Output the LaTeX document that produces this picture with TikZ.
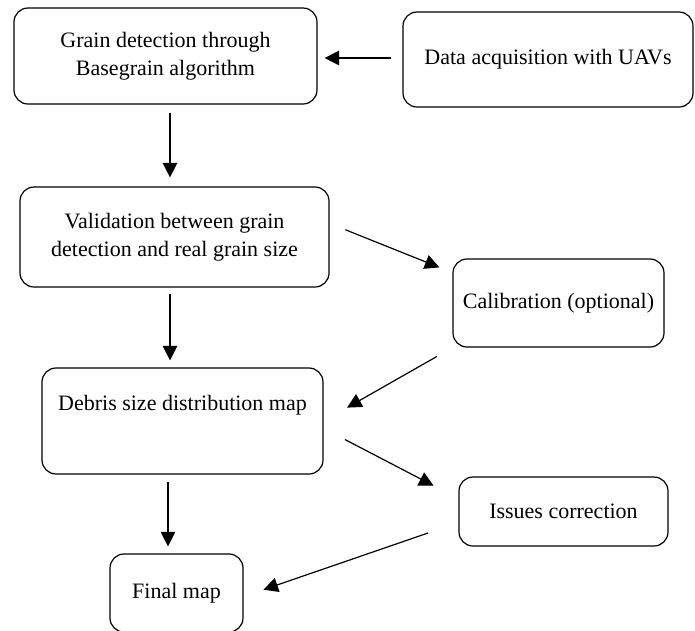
\documentclass[tikz,border=0pt]{standalone}
\usepackage{fontspec}
\setmainfont{Liberation Serif}
\usepackage{tikz}
\usetikzlibrary{arrows.meta, positioning, calc}

\begin{document}
\begin{tikzpicture}[
    x=1pt, y=-1pt,
    every node/.style={font=\fontsize{22}{28}\selectfont},
    box/.style={rectangle, draw=black, line width=1.2pt, rounded corners=14pt, align=center, inner sep=0pt},
    arrow/.style={-{Triangle[length=14.5pt, width=14.5pt]}, line width=1.2pt}
]
\useasboundingbox (0,0) rectangle (695,630);

% Nodes
\node[box, minimum width=303pt, minimum height=96pt] (grain) at (165.5,56) {Grain detection through\\Basegrain algorithm};
\node[box, minimum width=290pt, minimum height=95pt] (uav) at (548,59.5) {Data acquisition with UAVs};
\node[box, minimum width=309pt, minimum height=100pt] (valid) at (174.5,237) {Validation between grain\\detection and real grain size};
\node[box, minimum width=211pt, minimum height=88pt] (calib) at (558.5,303) {Calibration (optional)};
\node[box, minimum width=281pt, minimum height=106pt] (debris) at (182.5,421) {Debris size distribution map\\ \strut};
\node[box, minimum width=209pt, minimum height=69pt] (issues) at (563.5,511.5) {Issues correction};
\node[box, minimum width=133pt, minimum height=78pt] (final) at (176.5,593) {Final map};

% Arrows
\draw[arrow, shorten <=11pt, shorten >=7pt] (uav.west |- 0,58) -- (grain.east |- 0,58);
\draw[arrow, shorten <=8pt, shorten >=9pt] ([xshift=4.5pt]grain.south) -- ([xshift=-4.5pt]valid.north);
\draw[arrow, shorten <=17pt, shorten >=14pt] (valid.5.4) -- (calib.164.1);
\draw[arrow, shorten <=6pt, shorten >=7pt] ([xshift=-4.5pt]valid.south) -- ([xshift=-12.5pt]debris.north);
\draw[arrow, shorten <=18pt, shorten >=27pt] (calib.south west) -- (debris.east);
\draw[arrow, shorten <=24pt, shorten >=28pt] (debris.-3) -- (issues.173);
\draw[arrow, shorten <=7pt, shorten >=7pt] ([xshift=-14.5pt]debris.south) -- ([xshift=-8.5pt]final.north);
\draw[arrow, shorten <=32pt, shorten >=21pt] (issues.-174.5) -- (final.-3.4);

\end{tikzpicture}
\end{document}
